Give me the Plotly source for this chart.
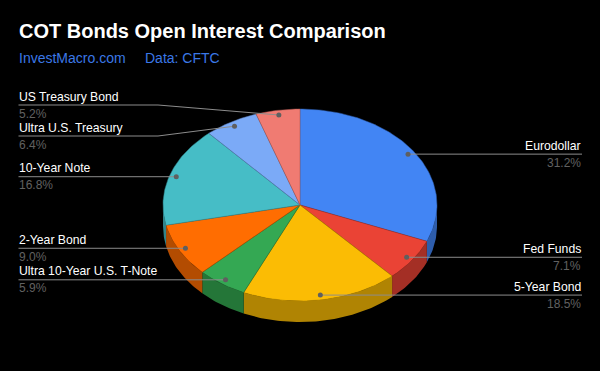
import math
import plotly.graph_objects as go

categories = ["Eurodollar", "Fed Funds", "5-Year Bond", "Ultra 10-Year U.S. T-Note",
              "2-Year Bond", "10-Year Note", "Ultra U.S. Treasury", "US Treasury Bond"]
shares = [31.2, 7.1, 18.5, 5.9, 9.0, 16.8, 6.4, 5.2]
pct_labels = ["31.2%", "7.1%", "18.5%", "5.9%", "9.0%", "16.8%", "6.4%", "5.2%"]
top_colors = ["#4285F4", "#EA4335", "#FBBC04", "#34A853", "#FF6D01", "#46BDC6", "#7BAAF7", "#F07B72"]
side_colors = ["#2E5DAB", "#A42F25", "#B08403", "#247638", "#B34C01", "#31848B", "#5677AD", "#A85650"]

# layout geometry (pixels of the 600x371 page)
CX, CY, RX, RY, DEPTH = 300, 205, 137, 96, 21
ANCHOR_R = 0.95
LEFT_X, RIGHT_X, ELBOW_X = 18.5, 582, 158
label_line_y = [None, None, None, None, None, None, 136, 105]
label_side = ["r", "r", "r", "l", "l", "l", "l", "l"]


def pt(deg, r=1.0, dy=0.0):
    t = math.radians(deg)
    return CX + RX * r * math.sin(t), CY - RY * r * math.cos(t) + dy


def arc(a, b, dy=0.0):
    n = max(2, int(abs(b - a)) + 2)
    return [pt(a + (b - a) * i / (n - 1), 1.0, dy) for i in range(n)]


total = sum(shares)
fig = go.Figure()
edges = []
c = 0.0
for s in shares:
    edges.append((c, c + s / total * 360))
    c += s / total * 360


def poly(points, fill, line=None, width=0):
    xs = [p[0] for p in points] + [points[0][0]]
    ys = [p[1] for p in points] + [points[0][1]]
    fig.add_trace(go.Scatter(x=xs, y=ys, mode="lines", fill="toself", fillcolor=fill,
                             line=dict(color=line or fill, width=width if line else 0),
                             hoverinfo="skip", showlegend=False))


# side walls
for (a, b), col in zip(edges, side_colors):
    a2, b2 = max(a, 90), min(b, 270)
    if b2 > a2:
        poly(arc(a2, b2) + arc(b2, a2, DEPTH), col)

# top faces
for (a, b), col, side in zip(edges, top_colors, side_colors):
    poly([(CX, CY)] + arc(a, b), col, side, 0.5)

# leader lines and anchors
ax, ay = [], []
for (a, b), ly, sd in zip(edges, label_line_y, label_side):
    x, y = pt((a + b) / 2, ANCHOR_R)
    ax.append(x)
    ay.append(y)
    if sd == "r":
        lx, ly_ = [x, RIGHT_X], [y, y]
    elif ly is None:
        lx, ly_ = [x, LEFT_X], [y, y]
    else:
        lx, ly_ = [x, ELBOW_X, LEFT_X], [y, ly, ly]
    fig.add_trace(go.Scatter(x=lx, y=ly_, mode="lines", line=dict(color="#8C8C8C", width=1),
                             hoverinfo="skip", showlegend=False))
fig.add_trace(go.Scatter(x=ax, y=ay, mode="markers", marker=dict(color="#5F5F5F", size=5),
                         hoverinfo="skip", showlegend=False))

# labels
for name, pct, ly, sd, y in zip(categories, pct_labels, label_line_y, label_side, ay):
    base = y if ly is None else ly
    tx = RIGHT_X - 0.7 if sd == "r" else 19
    anchor = "right" if sd == "r" else "left"
    fig.add_annotation(x=tx, y=base - 8.5, text=name, showarrow=False, xanchor=anchor, yanchor="middle",
                       borderpad=0, borderwidth=0, font=dict(family="Liberation Sans", size=12.2, color="#FFFFFF"))
    fig.add_annotation(x=tx, y=base + 8.5, text=pct, showarrow=False, xanchor=anchor, yanchor="middle",
                       borderpad=0, borderwidth=0, font=dict(family="Liberation Sans", size=12, color="#616161"))

fig.add_annotation(x=19, y=31, text="<b>COT Bonds Open Interest Comparison</b>", showarrow=False,
                   xanchor="left", yanchor="middle", borderpad=0, borderwidth=0,
                   font=dict(family="Liberation Sans", size=20, color="#FFFFFF"))
fig.add_annotation(x=19, y=58, text="InvestMacro.com", showarrow=False,
                   xanchor="left", yanchor="middle", borderpad=0, borderwidth=0,
                   font=dict(family="Liberation Sans", size=14, color="#3B78E7"))
fig.add_annotation(x=145, y=58, text="Data: CFTC", showarrow=False,
                   xanchor="left", yanchor="middle", borderpad=0, borderwidth=0,
                   font=dict(family="Liberation Sans", size=14, color="#3B78E7"))

fig.update_layout(
    width=600, height=371, margin=dict(l=0, r=0, t=0, b=0),
    paper_bgcolor="#000000", plot_bgcolor="#000000", showlegend=False,
    xaxis=dict(range=[0, 600], visible=False, fixedrange=True),
    yaxis=dict(range=[371, 0], visible=False, fixedrange=True),
)
fig.write_html("out.html", config={"displayModeBar": False},
               post_script="document.body.style.margin='0';document.body.style.background='#000';document.documentElement.style.overflow='hidden';")
